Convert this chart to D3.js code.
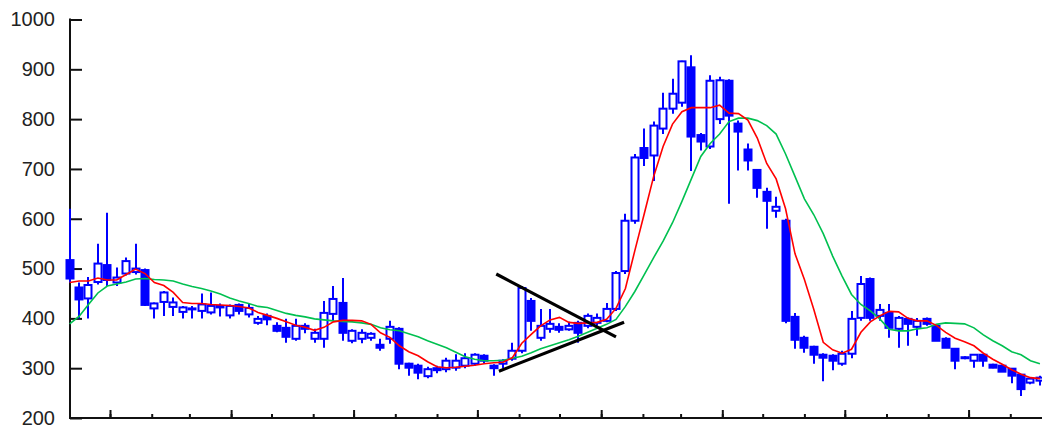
<!DOCTYPE html>
<html>
<head>
<meta charset="utf-8">
<script src="https://cdn.jsdelivr.net/npm/d3@7"></script>
<style>
  html, body { margin: 0; padding: 0; background: #fff; }
  svg { display: block; }
</style>
</head>
<body>
<svg id="chart" width="1042" height="430"></svg>
<script>
// ---------- data ----------
const firstWeek = "2005-12-02";   // weekly candles (Fridays)
const opens = [517,462,440,473,507,472,490,493,497,420,
433,423,413,418,415,412,425,406,427,408,
391,405,385,381,359,385,359,359,409,431,
355,359,361,347,359,379,309,305,284,300,
298,301,305,309,325,305,309,319,335,435,
361,379,383,378,391,385,391,395,419,495,
596,742,727,781,821,833,904,768,745,800,
877,791,739,698,654,616,596,403,361,343,
327,325,309,329,401,479,405,411,379,399,
383,399,385,359,339,320,315,327,307,305,
299,287,271,275];
const highs = [620,472,483,550,612,502,522,550,500,432,
455,442,425,425,450,452,430,428,430,429,
405,410,392,399,399,390,379,435,465,481,
378,378,372,359,395,382,311,309,303,305,
321,328,330,330,328,308,318,351,465,441,
419,419,390,393,395,410,410,431,495,610,
730,781,795,853,881,917,928,772,888,885,
880,797,751,700,662,644,600,411,365,345,
330,328,335,415,485,482,429,429,405,402,
401,402,388,362,340,324,327,328,309,307,
300,288,281,285];
const lows = [472,400,400,468,465,465,486,488,425,400,
405,405,400,400,400,408,404,400,408,402,
387,386,372,351,355,370,351,341,395,355,
350,350,355,335,349,298,285,278,280,290,
292,295,300,305,310,285,300,315,330,375,
355,371,371,375,351,380,385,392,415,489,
590,706,676,770,811,825,696,737,740,790,
630,697,697,642,580,602,390,339,331,309,
274,296,305,320,395,395,395,361,341,345,
365,385,355,341,298,318,301,303,300,293,
270,244,268,265];
const closes = [480,438,467,510,477,482,515,500,427,430,
452,432,422,420,428,425,422,425,415,421,
399,398,375,363,385,379,371,411,439,371,
375,371,369,341,383,309,301,291,298,296,
315,315,320,327,315,300,315,335,461,395,
385,389,377,385,371,405,401,419,491,596,
723,722,787,821,851,916,765,755,877,878,
807,775,717,662,636,624,395,357,341,327,
321,315,329,399,469,401,417,381,401,389,
395,389,355,341,315,322,327,315,301,293,
285,258,279,281];
const maShort = [472,475,475,481,477,477,488,499,490,472,
466,452,432,430,430,428,427,426,424,421,
412,406,400,393,386,382,376,382,393,396,
396,395,388,371,362,345,333,325,313,303,
301,302,304,306,309,311,312,321,350,368,
385,397,402,392,390,391,392,398,420,460,
536,610,685,745,790,815,823,823,823,828,
812,811,798,762,711,680,620,530,478,418,
352,337,330,338,372,393,405,414,413,400,
395,395,386,372,360,353,345,330,318,308,
297,288,281,279];
const maLong = [389,404,428,451,465,469,473,479,480,478,
477,475,469,464,460,455,449,441,435,430,
424,422,416,410,406,403,399,397,395,394,
393,391,388,381,377,375,369,363,355,348,
341,332,323,318,315,315,316,320,324,331,
339,345,351,357,364,372,380,388,398,424,
454,488,522,555,592,635,680,725,751,770,
795,802,802,797,787,770,730,685,640,608,
570,525,485,448,428,415,399,378,375,375,
379,381,388,391,390,389,381,367,355,345,
333,327,315,309];
const trendDownDates = ["2006-10-15", "2007-01-12"];
const trendDownValues = [489, 363];
const trendUpDates = ["2006-10-17", "2007-01-18"];
const trendUpValues = [294, 392];
const yTicks = [200, 300, 400, 500, 600, 700, 800, 900, 1000];

// ---------- build ----------
const parse = d3.timeParse("%Y-%m-%d");
const start = parse(firstWeek);
const candles = opens.map((o, i) => ({
  date: d3.timeWeek.offset(start, i),
  open: o, high: highs[i], low: lows[i], close: closes[i],
  maS: maShort[i], maL: maLong[i]
}));

const svg = d3.select("#chart");
const x = d3.scaleTime()
  .domain([new Date(2006, 0, 1), new Date(2007, 10, 1)])
  .range([110, 1010.3]);
const y = d3.scaleLinear().domain([200, 1000]).range([418, 19.5]);

const blue = "#0000ff";

// axes
const yAxis = d3.axisLeft(y).tickValues(yTicks).tickSize(-12).tickPadding(15).tickFormat(d3.format("d"));
const gy = svg.append("g").attr("transform", "translate(70,0)").call(yAxis);
gy.select(".domain").remove();
gy.selectAll("line").attr("stroke", "#111").attr("stroke-width", 2);
gy.selectAll("text").attr("fill", "#222").style("font-family", "'Liberation Sans', Arial, sans-serif").style("font-size", "20px");

const minorAxis = d3.axisTop(x).ticks(d3.timeMonth.every(1)).tickSize(4).tickFormat("");
const majorAxis = d3.axisTop(x).ticks(d3.timeMonth.every(3)).tickSize(8).tickFormat("");
const gxMinor = svg.append("g").attr("transform", "translate(0,418)").call(minorAxis);
const gxMajor = svg.append("g").attr("transform", "translate(0,418)").call(majorAxis);
[gxMinor, gxMajor].forEach(g => {
  g.select(".domain").remove();
  g.selectAll("line").attr("stroke", "#111").attr("stroke-width", 2);
  g.selectAll(".tick").filter(d => x(d) < 75 || x(d) > 1040).remove();
});
// axis lines
svg.append("line").attr("x1", 70).attr("x2", 70).attr("y1", y(1000) - 1).attr("y2", 419).attr("stroke", "#111").attr("stroke-width", 2);
svg.append("line").attr("x1", 69).attr("x2", 1042).attr("y1", 418).attr("y2", 418).attr("stroke", "#111").attr("stroke-width", 2);

// candles
const bodyW = 7;
const g = svg.append("g");
g.selectAll("line.wick").data(candles).join("line")
  .attr("class", "wick")
  .attr("x1", d => Math.round(x(d.date))).attr("x2", d => Math.round(x(d.date)))
  .attr("y1", d => y(d.high)).attr("y2", d => y(d.low))
  .attr("stroke", blue).attr("stroke-width", 2);
g.selectAll("rect.body").data(candles).join("rect")
  .attr("class", "body")
  .attr("x", d => Math.round(x(d.date)) - bodyW / 2)
  .attr("width", bodyW)
  .attr("y", d => y(Math.max(d.open, d.close)))
  .attr("height", d => Math.max(1, Math.abs(y(d.open) - y(d.close))))
  .attr("fill", d => d.close >= d.open ? "#fff" : blue)
  .attr("stroke", blue).attr("stroke-width", 2);

// moving averages
const lineS = d3.line().x(d => x(d.date)).y(d => y(d.maS));
const lineL = d3.line().x(d => x(d.date)).y(d => y(d.maL));
svg.append("path").datum(candles).attr("d", lineL).attr("fill", "none").attr("stroke", "#00c050").attr("stroke-width", 1.6);
svg.append("path").datum(candles).attr("d", lineS).attr("fill", "none").attr("stroke", "#ff0000").attr("stroke-width", 1.6);

// trend lines
const tl = d3.line().x(d => x(d[0])).y(d => y(d[1]));
const down = trendDownDates.map((s, i) => [parse(s), trendDownValues[i]]);
const up = trendUpDates.map((s, i) => [parse(s), trendUpValues[i]]);
[down, up].forEach(p => svg.append("path").datum(p).attr("d", tl).attr("stroke", "#000").attr("stroke-width", 3.2).attr("fill", "none"));
</script>
</body>
</html>
